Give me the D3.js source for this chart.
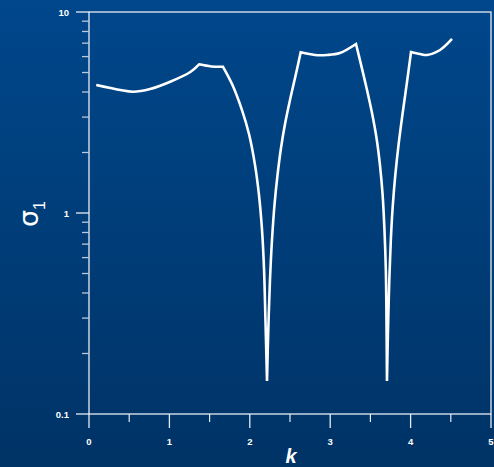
<!DOCTYPE html>
<html>
<head>
<meta charset="utf-8">
<script src="https://cdn.jsdelivr.net/npm/d3@7"></script>
<style>
  html, body { margin: 0; padding: 0; background: #003a74; }
  svg { display: block; }
  text { font-family: "Liberation Sans", Arial, sans-serif; fill: #ffffff; }
</style>
</head>
<body>
<svg id="chart" width="494" height="467"></svg>
<script>
// Wavenumber k and the largest growth rate sigma_1 along the curve
const kValues = [
  0.09, 0.25, 0.39, 0.55, 0.76, 1.01, 1.26, 1.37,
  1.52, 1.667,
  1.779, 1.903, 1.990, 2.065, 2.114, 2.152, 2.177, 2.195, 2.214,
  2.230, 2.251, 2.276, 2.307, 2.345, 2.388, 2.438, 2.500, 2.568, 2.633,
  2.81, 2.96, 3.12, 3.321,
  3.379, 3.458, 3.520, 3.576, 3.619, 3.652, 3.675, 3.692, 3.700, 3.706,
  3.719, 3.735, 3.754, 3.779, 3.810, 3.850, 3.903, 3.955, 4.005,
  4.117, 4.204, 4.366, 4.515
];
const sigmaValues = [
  4.33, 4.20, 4.09, 4.01, 4.14, 4.50, 5.03, 5.49,
  5.36, 5.34,
  4.38, 3.25, 2.47, 1.73, 1.23, 0.823, 0.526, 0.290, 0.146,
  0.262, 0.464, 0.734, 1.096, 1.546, 2.106, 2.772, 3.65, 4.80, 6.30,
  6.11, 6.11, 6.25, 6.93,
  5.57, 4.09, 3.14, 2.36, 1.73, 1.23, 0.823, 0.520, 0.294, 0.146,
  0.262, 0.464, 0.734, 1.096, 1.546, 2.18, 3.18, 4.48, 6.32,
  6.18, 6.11, 6.47, 7.34
];
// wavenumbers where the curve has a kink (branch switch or dip)
const kinkK = [1.37, 1.667, 2.214, 2.633, 3.321, 3.706, 4.005];
const xTickLabels = ["0", "1", "2", "3", "4", "5"];
const yTickLabels = ["0.1", "1", "10"];

const svg = d3.select("#chart");
const W = 494, H = 467;
const plot = { left: 89, right: 491, top: 12, bottom: 414 };

// background gradient
const defs = svg.append("defs");
const grad = defs.append("linearGradient")
  .attr("id", "bg").attr("x1", 0).attr("y1", 0).attr("x2", 0).attr("y2", 1);
grad.append("stop").attr("offset", "0%").attr("stop-color", "#00478b");
grad.append("stop").attr("offset", "100%").attr("stop-color", "#003366");
svg.append("rect").attr("width", W).attr("height", H).attr("fill", "url(#bg)");

const x = d3.scaleLinear().domain([0, 5]).range([plot.left, plot.right]);
const y = d3.scaleLog().domain([0.1, 10]).range([plot.bottom, plot.top]);

const axisColor = "#e6ecf4";
const minorColor = "#b9c8da";

// plot frame
svg.append("rect")
  .attr("x", plot.left).attr("y", plot.top)
  .attr("width", plot.right - plot.left).attr("height", plot.bottom - plot.top)
  .attr("fill", "none").attr("stroke", axisColor).attr("stroke-width", 1.3);

// x ticks
const xMajor = xTickLabels.map(Number);
const xMinor = d3.range(0.5, 5, 1);
svg.append("g").selectAll("line").data(xMajor).join("line")
  .attr("x1", d => x(d)).attr("x2", d => x(d))
  .attr("y1", plot.bottom).attr("y2", plot.bottom + 14)
  .attr("stroke", axisColor).attr("stroke-width", 1.3);
svg.append("g").selectAll("line").data(xMinor).join("line")
  .attr("x1", d => x(d)).attr("x2", d => x(d))
  .attr("y1", plot.bottom).attr("y2", plot.bottom + 8)
  .attr("stroke", axisColor).attr("stroke-width", 1.2);
svg.append("g").selectAll("text").data(xTickLabels).join("text")
  .attr("x", d => x(+d)).attr("y", plot.bottom + 31)
  .attr("text-anchor", "middle")
  .attr("font-size", 9.5).attr("font-weight", "bold")
  .text(d => d);

// y ticks (log decades with minor ticks)
const yMajor = yTickLabels.map(Number);
const yMinor = [];
[0.1, 1].forEach(dec => { for (let m = 2; m <= 9; m++) yMinor.push(dec * m); });
svg.append("g").selectAll("line").data(yMajor).join("line")
  .attr("x1", plot.left - 13).attr("x2", plot.left)
  .attr("y1", d => y(d)).attr("y2", d => y(d))
  .attr("stroke", axisColor).attr("stroke-width", 1.3);
svg.append("g").selectAll("line").data(yMinor).join("line")
  .attr("x1", plot.left - 7).attr("x2", plot.left)
  .attr("y1", d => y(d)).attr("y2", d => y(d))
  .attr("stroke", minorColor).attr("stroke-width", 1.3);
svg.append("g").selectAll("text").data(yTickLabels).join("text")
  .attr("x", plot.left - 20).attr("y", d => y(+d) + 3.5)
  .attr("text-anchor", "end")
  .attr("font-size", 9.5).attr("font-weight", "bold")
  .text(d => d);

// growth-rate curve: smooth pieces joined at the kinks
const pts = kValues.map((k, i) => [k, sigmaValues[i]]);
const bounds = [kValues[0], ...kinkK, kValues[kValues.length - 1]];
const pieces = d3.pairs(bounds).map(([a, b]) =>
  pts.filter(p => p[0] >= a - 1e-9 && p[0] <= b + 1e-9));
const line = d3.line()
  .x(d => x(d[0])).y(d => y(d[1]))
  .curve(d3.curveCatmullRom.alpha(0.5));
const pathD = pieces.map(p => line(p)).join("");
svg.append("path")
  .attr("d", pathD.replace(/M/g, (m, i) => i === 0 ? "M" : "L"))
  .attr("fill", "none")
  .attr("stroke", "#ffffff")
  .attr("stroke-width", 2.6)
  .attr("stroke-linejoin", "miter")
  .attr("stroke-miterlimit", 3);

// axis titles
svg.append("text")
  .attr("x", (plot.left + plot.right) / 2 + 1).attr("y", 463)
  .attr("text-anchor", "middle")
  .attr("font-size", 20).attr("font-weight", "bold").attr("font-style", "italic")
  .text("k");

const yTitle = svg.append("text")
  .attr("transform", "translate(38,214) rotate(-90)")
  .attr("text-anchor", "middle")
  .attr("font-size", 27);
yTitle.append("tspan").attr("font-family", "DejaVu Sans").text("σ");
yTitle.append("tspan").attr("font-size", 16).attr("dy", 7).text("1");
</script>
</body>
</html>
